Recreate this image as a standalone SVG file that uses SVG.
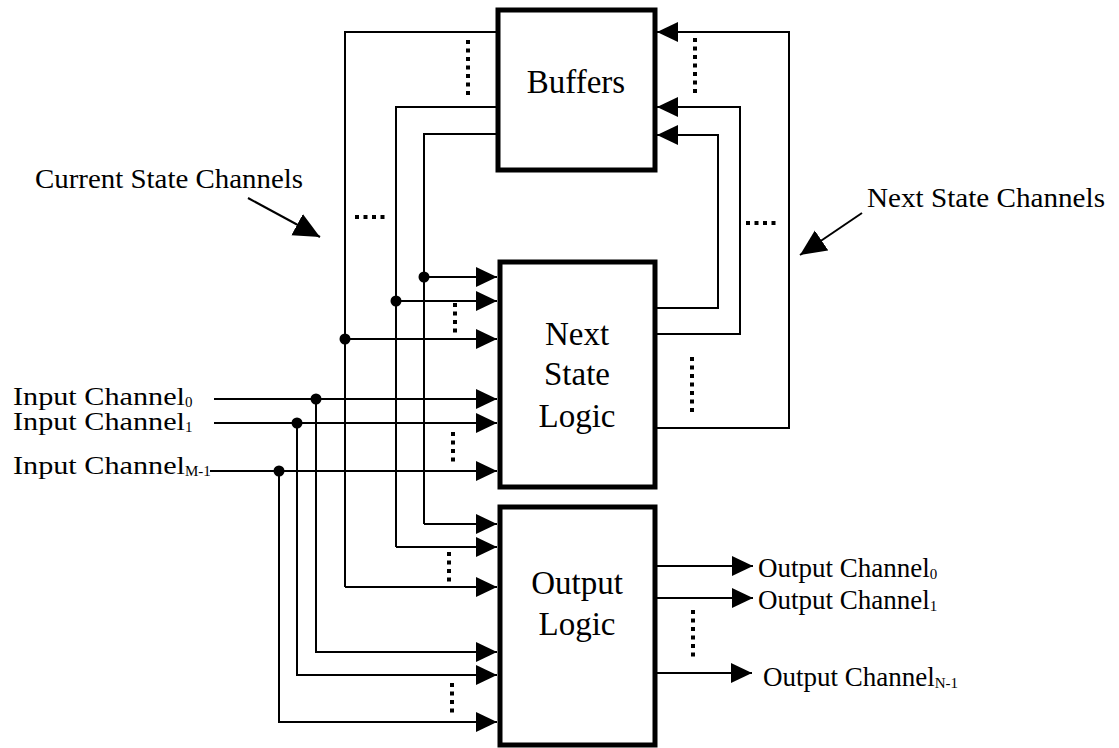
<svg xmlns="http://www.w3.org/2000/svg" width="1119" height="748" viewBox="0 0 1119 748">
<style>
.box{fill:#fff;stroke:#000;stroke-width:5}
.ln{fill:none;stroke:#000;stroke-width:2}
.ar{fill:none;stroke:#000;stroke-width:2;marker-end:url(#ah)}
.dot{fill:#000}
.dots{fill:none;stroke:#000;stroke-width:4;stroke-dasharray:4 4.5}
.t{font-family:"Liberation Serif","Times New Roman",serif;fill:#000}
.lbl{font-size:33px;text-anchor:middle}
.ch{font-size:27px}
.in{font-size:25px}
.sub{font-size:15px}
</style>
<defs>
<marker id="ah" markerUnits="userSpaceOnUse" markerWidth="22" markerHeight="22" refX="21" refY="10" orient="auto" viewBox="0 0 22 22"><path d="M0,0 L21,10 L0,20 Z" fill="#000"/></marker>
<marker id="bh" markerUnits="userSpaceOnUse" markerWidth="28" markerHeight="26" refX="26" refY="12" orient="auto" viewBox="0 0 28 26"><path d="M0,0 L26,12 L0,24 Z" fill="#000"/></marker>
</defs>
<g id="connectors">
<polyline class="ln" points="498,32 345,32 345,587"/>
<polyline class="ln" points="498,107 396,107 396,547"/>
<polyline class="ln" points="498,134 424,134 424,524"/>
<line class="ar" x1="424" y1="277" x2="497" y2="277"/>
<line class="ar" x1="396" y1="301" x2="497" y2="301"/>
<line class="ar" x1="345" y1="339" x2="497" y2="339"/>
<line class="ar" x1="424" y1="524" x2="497" y2="524"/>
<line class="ar" x1="396" y1="547" x2="497" y2="547"/>
<line class="ar" x1="345" y1="587" x2="497" y2="587"/>
<circle class="dot" cx="424" cy="277" r="5.5"/>
<circle class="dot" cx="396" cy="301" r="5.5"/>
<circle class="dot" cx="345" cy="339" r="5.5"/>
<line class="ar" x1="214" y1="399" x2="497" y2="399"/>
<line class="ar" x1="214" y1="423" x2="497" y2="423"/>
<line class="ar" x1="210" y1="471" x2="497" y2="471"/>
<polyline class="ar" points="316,399 316,652 497,652"/>
<polyline class="ar" points="297,423 297,675 497,675"/>
<polyline class="ar" points="279,471 279,722 497,722"/>
<circle class="dot" cx="316" cy="399" r="5.5"/>
<circle class="dot" cx="297" cy="423" r="5.5"/>
<circle class="dot" cx="279" cy="471" r="5.5"/>
<polyline class="ar" points="656,308 718,308 718,135 657,135"/>
<polyline class="ar" points="656,334 740,334 740,107 657,107"/>
<polyline class="ar" points="656,428 789,428 789,32 657,32"/>
<line class="ar" x1="656" y1="566" x2="753" y2="566"/>
<line class="ar" x1="656" y1="598" x2="753" y2="598"/>
<line class="ar" x1="656" y1="673" x2="752" y2="673"/>
<line class="dots" x1="468" y1="40" x2="468" y2="99"/>
<line class="dots" x1="695" y1="38" x2="695" y2="97"/>
<line class="dots" x1="355" y1="217" x2="387" y2="217"/>
<line class="dots" x1="746" y1="223" x2="778" y2="223"/>
<line class="dots" x1="455" y1="303" x2="455" y2="334"/>
<line class="dots" x1="453" y1="432" x2="453" y2="462"/>
<line class="dots" x1="692" y1="357" x2="692" y2="412"/>
<line class="dots" x1="449" y1="552" x2="449" y2="583"/>
<line class="dots" x1="452" y1="683" x2="452" y2="714"/>
<line class="dots" x1="693" y1="610" x2="693" y2="659"/>
<line class="ln" x1="248" y1="198" x2="320" y2="237" style="marker-end:url(#bh)"/>
<line class="ln" x1="862" y1="213" x2="800" y2="255" style="marker-end:url(#bh)"/>
</g>
<g id="buffers">
<rect class="box" x="498" y="10" width="157" height="160"/>
<text class="t lbl" x="576" y="93">Buffers</text>
</g>
<g id="next-state-logic">
<rect class="box" x="500" y="262" width="155" height="225"/>
<text class="t lbl" x="577" y="345">Next</text>
<text class="t lbl" x="577" y="385">State</text>
<text class="t lbl" x="577" y="427">Logic</text>
</g>
<g id="output-logic">
<rect class="box" x="500" y="507" width="155" height="238"/>
<text class="t lbl" x="577" y="594">Output</text>
<text class="t lbl" x="577" y="635">Logic</text>
</g>
<g id="labels">
<text class="t ch" x="35" y="188" textLength="268" lengthAdjust="spacingAndGlyphs">Current State Channels</text>
<text class="t ch" x="867" y="207" textLength="238" lengthAdjust="spacingAndGlyphs">Next State Channels</text>
<text class="t in" x="13" y="405"><tspan textLength="172" lengthAdjust="spacingAndGlyphs">Input Channel</tspan><tspan class="sub" dy="2">0</tspan></text>
<text class="t in" x="13" y="430"><tspan textLength="172" lengthAdjust="spacingAndGlyphs">Input Channel</tspan><tspan class="sub" dy="2">1</tspan></text>
<text class="t in" x="13" y="474"><tspan textLength="172" lengthAdjust="spacingAndGlyphs">Input Channel</tspan><tspan class="sub" dy="2">M-1</tspan></text>
<text class="t ch" x="758" y="577">Output Channel<tspan class="sub" dy="2">0</tspan></text>
<text class="t ch" x="758" y="609">Output Channel<tspan class="sub" dy="2">1</tspan></text>
<text class="t ch" x="763" y="686">Output Channel<tspan class="sub" dy="2">N-1</tspan></text>
</g>
</svg>
